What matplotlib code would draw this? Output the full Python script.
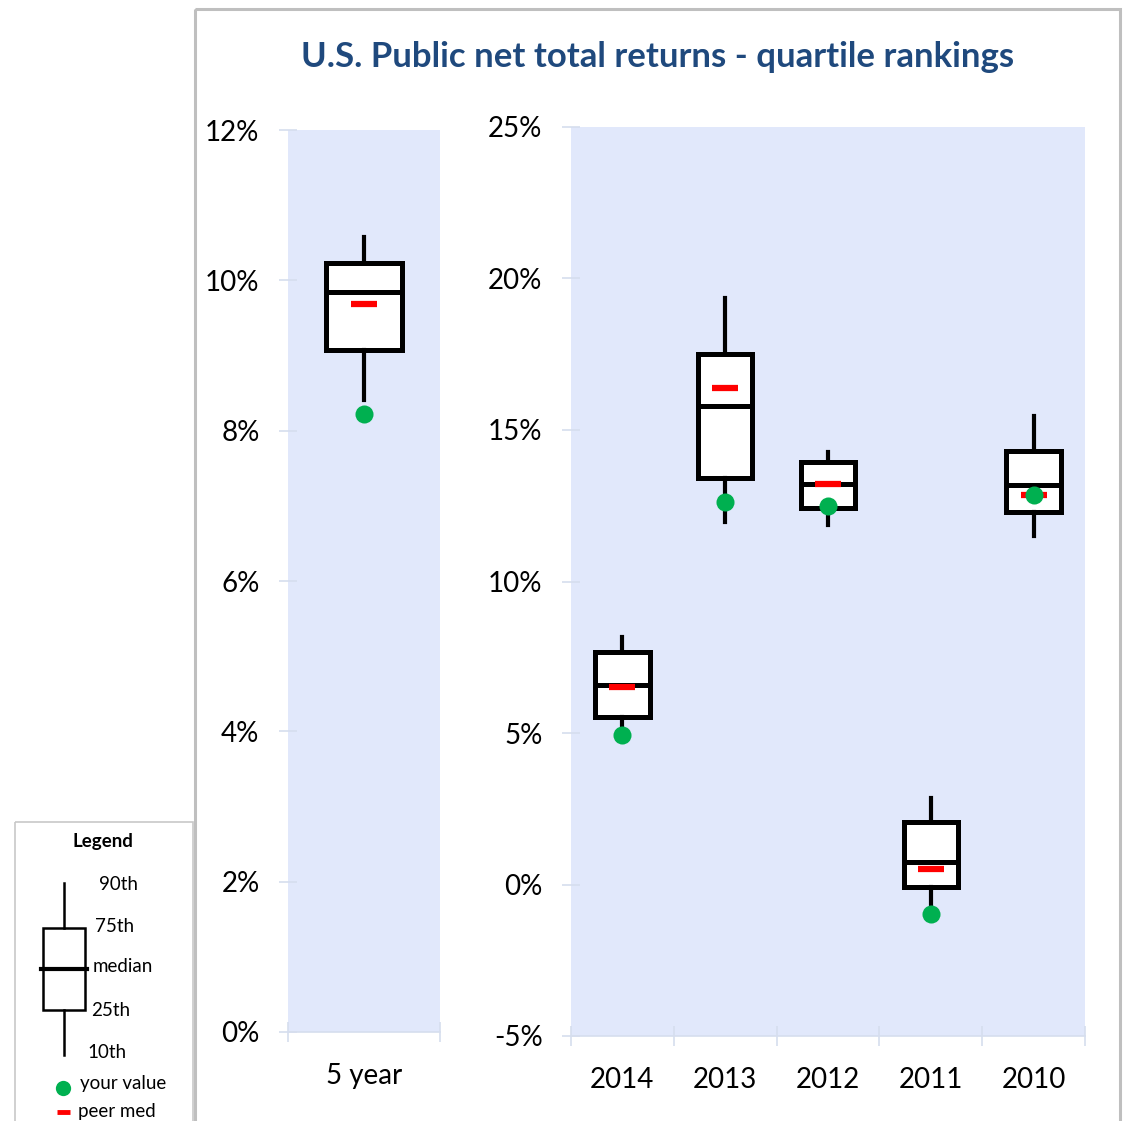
import matplotlib
matplotlib.use("Agg")
import matplotlib.pyplot as plt
from matplotlib.patches import Rectangle
from matplotlib.ticker import FuncFormatter

plt.rcParams['font.family'] = ['Lato', 'DejaVu Sans']

# ---- data ----
title = "U.S. Public net total returns - quartile rankings"

left_labels = ["5 year"]
left_p10 = [8.41]
left_p25 = [9.07]
left_med = [9.84]
left_p75 = [10.23]
left_p90 = [10.58]
left_peer = [9.68]
left_you = [8.22]
left_ticks = [0, 2, 4, 6, 8, 10, 12]

right_labels = ["2014", "2013", "2012", "2011", "2010"]
right_p10 = [5.25, 11.95, 11.85, -0.70, 11.49]
right_p25 = [5.54, 13.40, 12.44, -0.07, 12.28]
right_med = [6.57, 15.78, 13.23, 0.73, 13.17]
right_p75 = [7.66, 17.52, 13.96, 2.05, 14.32]
right_p90 = [8.18, 19.37, 14.29, 2.87, 15.45]
right_peer = [6.53, 16.37, 13.23, 0.50, 12.84]
right_you = [4.95, 12.64, 12.50, -0.96, 12.84]
right_ticks = [-5, 0, 5, 10, 15, 20, 25]

legend_labels = ["90th", "75th", "median", "25th", "10th", "your value", "peer med"]

# ---- style ----
W, H = 1124, 1121
BG = "#E1E8FB"
GRIDC = "#D6DEEE"
GREEN = "#00B050"
RED = "#FF0000"
TITLEC = "#1F497D"
FS = 20

fig = plt.figure(figsize=(W / 100, H / 100), dpi=100)


def px_rect(x0, y0, x1, y1):
    return [x0 / W, (H - y1) / H, (x1 - x0) / W, (y1 - y0) / H]


def draw_panel(ax, labels, p10, p25, med, p75, p90, peer, you, ticks, ylim, width):
    n = len(labels)
    pos = list(range(n))
    stats = []
    for i in range(n):
        stats.append(dict(med=med[i], q1=p25[i], q3=p75[i],
                          whislo=p10[i], whishi=p90[i], fliers=[]))
    ax.bxp(stats, positions=pos, widths=width, patch_artist=True,
           showcaps=False, showfliers=False,
           boxprops=dict(facecolor="white", edgecolor="black", linewidth=3.6),
           medianprops=dict(color="black", linewidth=3.6),
           whiskerprops=dict(color="black", linewidth=3.0))
    ax.plot(pos, peer, linestyle="none", marker="_", color=RED,
            markersize=19, markeredgewidth=4.5, zorder=5)
    ax.plot(pos, you, linestyle="none", marker="o", color=GREEN,
            markersize=13, markeredgewidth=0, zorder=6)
    ax.set_facecolor(BG)
    ax.set_xlim(-0.5, n - 0.5)
    ax.set_ylim(*ylim)
    ax.set_yticks(ticks)
    ax.yaxis.set_major_formatter(FuncFormatter(lambda v, p: f"{v:.0f}%"))
    ax.set_xticks(pos)
    ax.set_xticklabels(labels)
    ax.set_xticks([i - 0.5 for i in range(n + 1)], minor=True)
    for s in ["top", "right", "left"]:
        ax.spines[s].set_visible(False)
    ax.spines["bottom"].set_color(GRIDC)
    ax.spines["bottom"].set_linewidth(1.2)
    ax.tick_params(axis="y", direction="inout", length=13, width=1.2,
                   color=GRIDC, labelsize=FS, pad=14)
    ax.tick_params(axis="x", which="major", length=0, labelsize=FS, pad=22)
    ax.tick_params(axis="x", which="minor", direction="inout", length=14,
                   width=1.2, color=GRIDC)


axL = fig.add_axes(px_rect(288, 130, 440, 1032))
draw_panel(axL, left_labels, left_p10, left_p25, left_med, left_p75, left_p90,
           left_peer, left_you, left_ticks, (0, 12), 0.5)

axR = fig.add_axes(px_rect(571, 127, 1085, 1036))
draw_panel(axR, right_labels, right_p10, right_p25, right_med, right_p75, right_p90,
           right_peer, right_you, right_ticks, (-5, 25), 0.53)

# ---- overlay in pixel coordinates: frame, title, legend ----
ov = fig.add_axes([0, 0, 1, 1], zorder=-1)
ov.set_xlim(0, W)
ov.set_ylim(H, 0)
ov.axis("off")

ov.add_patch(Rectangle((194.5, 9), 925, 1125, fill=False, edgecolor="#BFBFBF", linewidth=2.2))
ov.add_patch(Rectangle((15, 822), 178, 320, fill=False, edgecolor="#C8C8C8", linewidth=1.2))

fig.text(658 / W, 1 - 57 / H, title, ha="center", va="center",
         fontsize=25, fontweight="bold", color=TITLEC)

# legend box drawing
fig.text(103 / W, 1 - 841 / H, "Legend", ha="center", va="center",
         fontsize=13.5, fontweight="bold", color="black")
ov.plot([64, 64], [883, 928], color="black", lw=1.8)
ov.plot([64, 64], [1010, 1055], color="black", lw=1.8)
ov.add_patch(Rectangle((43, 928), 42, 82, facecolor="white", edgecolor="black", linewidth=1.8))
ov.plot([41, 87], [969, 969], color="black", lw=3.0)
lx = [99, 95, 93, 91, 87]
ly = [885, 927, 966, 1010, 1053]
for t, x, y in zip(legend_labels[:5], lx, ly):
    fig.text(x / W, 1 - y / H, t, ha="left", va="center", fontsize=13.5)
ov.plot([63], [1088], marker="o", color=GREEN, markersize=11, markeredgewidth=0)
fig.text(80 / W, 1 - 1084 / H, legend_labels[5], ha="left", va="center", fontsize=13.5)
ov.plot([57, 70], [1112, 1112], color=RED, lw=3.5, solid_capstyle="butt")
fig.text(78 / W, 1 - 1111 / H, legend_labels[6], ha="left", va="center", fontsize=13.5)

fig.savefig("out.png", dpi=100)
